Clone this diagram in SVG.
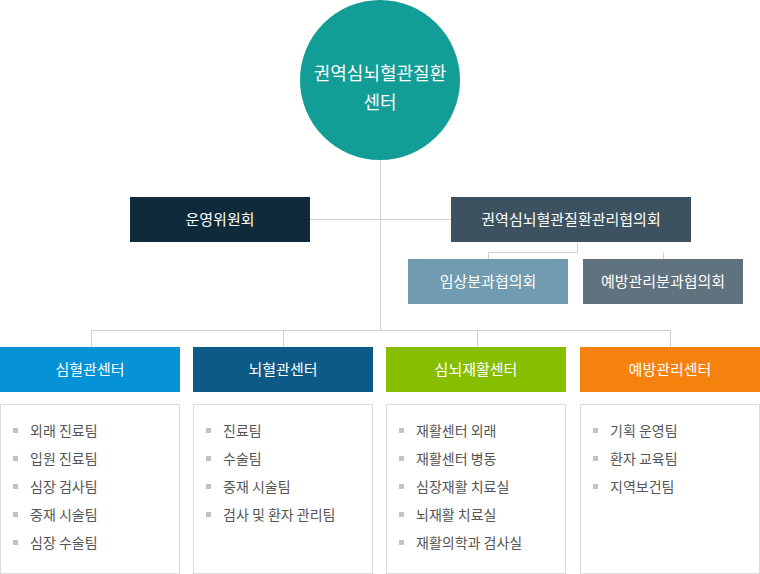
<svg xmlns="http://www.w3.org/2000/svg" width="760" height="574" viewBox="0 0 760 574">
<style>
text{font-family:"Noto Sans CJK KR","Noto Sans",sans-serif}
.t{fill:#fff;font-size:15px;text-anchor:middle}
.l{fill:#555;font-size:14px}
.c{fill:none;stroke:#d0d0d0;stroke-width:1}
.box{fill:#fff;stroke:#dcdcdc}
.b{fill:#c4c4c4}
</style>
<rect width="760" height="574" fill="#fff"/>
<g id="connectors">
<path class="c" d="M380.5 160V330.5M310 219.5H451M577.5 242V252.5H488.5V259M663.5 252.5V259M91.5 347V330.5H670.5V347M283.5 330.5V347M477.5 330.5V347"/>
</g>
<g id="root"><circle cx="380" cy="80" r="80" fill="#129d96"/>
<text class="t" x="380" y="80" font-size="18" style="font-size:18px">권역심뇌혈관질환</text>
<text class="t" x="380" y="109" style="font-size:18px">센터</text></g>
<g id="committee"><rect x="130" y="197" width="180" height="45" fill="#0f2b3b"/><text class="t" x="220" y="225">운영위원회</text></g>
<g id="council"><rect x="451" y="197" width="240" height="45" fill="#3d5260"/><text class="t" x="571" y="225">권역심뇌혈관질환관리협의회</text></g>
<g id="clinical"><rect x="408" y="259" width="160" height="45" fill="#709bb0"/><text class="t" x="488" y="287">임상분과협의회</text></g>
<g id="prevention"><rect x="583" y="259" width="160" height="45" fill="#5f727e"/><text class="t" x="663" y="287">예방관리분과협의회</text></g>
<g id="heart"><rect x="0" y="347" width="180" height="45" fill="#0592d6"/><text class="t" x="90" y="375">심혈관센터</text>
<rect class="box" x="0.5" y="404.5" width="179" height="169"/>
<g class="l"><text x="30" y="436">외래 진료팀</text><text x="30" y="464">입원 진료팀</text><text x="30" y="492">심장 검사팀</text><text x="30" y="520">중재 시술팀</text><text x="30" y="548">심장 수술팀</text></g>
<g class="b"><rect x="13" y="428" width="5" height="5"/><rect x="13" y="456" width="5" height="5"/><rect x="13" y="484" width="5" height="5"/><rect x="13" y="512" width="5" height="5"/><rect x="13" y="540" width="5" height="5"/></g></g>
<g id="brain"><rect x="193" y="347" width="180" height="45" fill="#0d5a86"/><text class="t" x="283" y="375">뇌혈관센터</text>
<rect class="box" x="193.5" y="404.5" width="179" height="169"/>
<g class="l"><text x="223" y="436">진료팀</text><text x="223" y="464">수술팀</text><text x="223" y="492">중재 시술팀</text><text x="223" y="520">검사 및 환자 관리팀</text></g>
<g class="b"><rect x="206" y="428" width="5" height="5"/><rect x="206" y="456" width="5" height="5"/><rect x="206" y="484" width="5" height="5"/><rect x="206" y="512" width="5" height="5"/></g></g>
<g id="rehab"><rect x="386" y="347" width="180" height="45" fill="#87be00"/><text class="t" x="476" y="375">심뇌재활센터</text>
<rect class="box" x="386.5" y="404.5" width="179" height="169"/>
<g class="l"><text x="416" y="436">재활센터 외래</text><text x="416" y="464">재활센터 병동</text><text x="416" y="492">심장재활 치료실</text><text x="416" y="520">뇌재활 치료실</text><text x="416" y="548">재활의학과 검사실</text></g>
<g class="b"><rect x="399" y="428" width="5" height="5"/><rect x="399" y="456" width="5" height="5"/><rect x="399" y="484" width="5" height="5"/><rect x="399" y="512" width="5" height="5"/><rect x="399" y="540" width="5" height="5"/></g></g>
<g id="prevcenter"><rect x="580" y="347" width="180" height="45" fill="#f5820e"/><text class="t" x="670" y="375">예방관리센터</text>
<rect class="box" x="580.5" y="404.5" width="179" height="169"/>
<g class="l"><text x="610" y="436">기획 운영팀</text><text x="610" y="464">환자 교육팀</text><text x="610" y="492">지역보건팀</text></g>
<g class="b"><rect x="593" y="428" width="5" height="5"/><rect x="593" y="456" width="5" height="5"/><rect x="593" y="484" width="5" height="5"/></g></g>
</svg>
